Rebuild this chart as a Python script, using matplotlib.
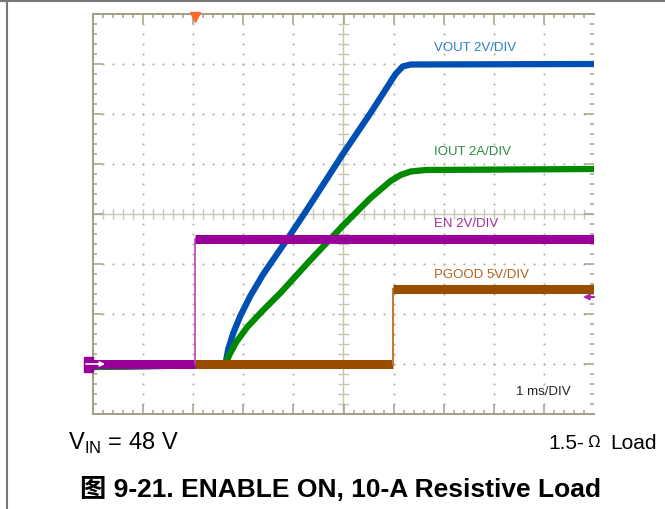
import numpy as np
import matplotlib
matplotlib.use('Agg')
import matplotlib.pyplot as plt
from matplotlib.lines import Line2D
from matplotlib.patches import Rectangle

plt.rcParams['font.family'] = ['Liberation Sans', 'Noto Sans CJK SC', 'DejaVu Sans']

# Trazas del osciloscopio (unidades: divisiones, 1 ms/DIV)
t_vout = [0, 2.64, 2.70, 2.80, 2.94, 3.14, 3.40, 3.88, 4.24, 4.64, 5.00, 5.54, 6.04, 6.18, 6.34, 10]
v_vout = [0.94, 0.98, 1.30, 1.62, 1.96, 2.36, 2.80, 3.50, 4.04, 4.66, 5.22, 6.02, 6.80, 6.95, 6.99, 7.00]

t_iout = [0, 2.64, 2.72, 2.86, 3.08, 3.38, 3.74, 4.34, 5.00, 5.54, 5.94, 6.14, 6.34, 6.64, 10]
v_iout = [0.94, 0.98, 1.18, 1.44, 1.74, 2.06, 2.42, 3.08, 3.78, 4.32, 4.66, 4.78, 4.85, 4.88, 4.90]

t_en = [0, 2.04, 2.04, 10]
v_en = [1.0, 1.0, 3.5, 3.5]

t_pg = [2.04, 5.98, 5.98, 10]
v_pg = [1.0, 1.0, 2.5, 2.5]

etiquetas = ['VOUT 2V/DIV', 'IOUT 2A/DIV', 'EN 2V/DIV', 'PGOOD 5V/DIV']
pos_etiquetas = [7.34, 5.26, 3.82, 2.80]
colores_etiquetas = ['#2b7fcf', '#2e8b3e', '#a0309c', '#b0621c']

marco = '#a39f85'
punto = '#b3b096'

fig = plt.figure(figsize=(6.65, 5.1), dpi=100)
ax = fig.add_axes([93 / 665, 95 / 510, 501 / 665, 400 / 510])
ax.set_xlim(0, 10)
ax.set_ylim(0, 8)
ax.set_xticks([])
ax.set_yticks([])
for lado in ['left', 'top', 'bottom']:
    ax.spines[lado].set_color(marco)
    ax.spines[lado].set_linewidth(1.4)
ax.spines['right'].set_visible(False)

# Rejilla de puntos
paso = np.arange(0.2, 10, 0.2)
paso_y = np.arange(0.2, 8, 0.2)
for gx in range(1, 10):
    if gx != 5:
        ax.scatter(np.full(len(paso_y), gx), paso_y, s=2.2, color=punto, lw=0, zorder=1)
for gy in range(1, 8):
    if gy != 4:
        ax.scatter(paso, np.full(len(paso), gy), s=2.2, color=punto, lw=0, zorder=1)

# Ejes centrales con marcas
ax.axhline(4, color='#c8c5b0', lw=1, zorder=1)
ax.axvline(5, color='#c8c5b0', lw=1, zorder=1)
ax.vlines(paso, 4 - 0.1, 4 + 0.1, color='#c8c5b0', lw=1, zorder=1)
ax.hlines(paso_y, 5 - 0.1, 5 + 0.1, color='#c8c5b0', lw=1, zorder=1)

# Marcas de los bordes
largo_x = np.where(np.isclose(paso % 1, 0) | np.isclose(paso % 1, 1), 0.2, 0.08)
largo_y = np.where(np.isclose(paso_y % 1, 0) | np.isclose(paso_y % 1, 1), 0.2, 0.08)
ax.vlines(paso, 8 - largo_x, 8, color=marco, lw=1.1, zorder=1)
ax.vlines(paso, 0, largo_x, color=marco, lw=1.1, zorder=1)
ax.hlines(paso_y, 0, largo_y, color=marco, lw=1.1, zorder=1)
ax.hlines(paso_y, 10 - largo_y, 10, color=marco, lw=1.1, zorder=1)

# Trazas
ax.plot(t_vout, v_vout, color='#0050b4', lw=4.5, zorder=2)
ax.plot(t_iout, v_iout, color='#008a00', lw=4.5, zorder=3)
ax.plot(t_pg[:2], v_pg[:2], color='#994d00', lw=6.5, solid_capstyle='butt', zorder=4)
ax.plot(t_pg[1:3], v_pg[1:3], color='#c07a3a', lw=1.5, zorder=4)
ax.plot(t_pg[2:], v_pg[2:], color='#994d00', lw=6.5, solid_capstyle='butt', zorder=4)
ax.plot(t_en[:2], v_en[:2], color='#990099', lw=6.5, solid_capstyle='butt', zorder=4)
ax.plot(t_en[1:3], v_en[1:3], color='#c040c0', lw=1.2, zorder=4)
ax.plot(t_en[2:], v_en[2:], color='#990099', lw=6.5, solid_capstyle='butt', zorder=4)

for texto, yy, cc in zip(etiquetas, pos_etiquetas, colores_etiquetas):
    ax.text(6.8, yy, texto, color=cc, fontsize=9.5, va='center', ha='left')
ax.text(8.44, 0.46, '1 ms/DIV', color='#222222', fontsize=9.5, va='center', ha='left')

# Marcadores de canal y disparo
ax.add_patch(Rectangle((-0.18, 0.85), 0.18, 0.3, color='#990099', clip_on=False, zorder=5))
ax.annotate('', xy=(0.24, 1.0), xytext=(-0.14, 1.0),
            arrowprops=dict(arrowstyle='-|>', color='white', lw=1.2, mutation_scale=7,
                            shrinkA=0, shrinkB=0),
            annotation_clip=False, zorder=6)
ax.annotate('', xy=(9.78, 2.34), xytext=(10.0, 2.34),
            arrowprops=dict(arrowstyle='-|>', color='#b020b0', lw=1.5, mutation_scale=8,
                            shrinkA=0, shrinkB=0),
            annotation_clip=False, zorder=6)
ax.plot([2.04], [7.95], marker='v', markersize=7, color='#ff6a2a', clip_on=False, zorder=6)

# Textos inferiores
fig.text(68 / 665, 1 - 443 / 510, r'V$_{\mathregular{IN}}$ = 48 V', fontsize=17, va='center', ha='left')
fig.text(548 / 665, 1 - 444 / 510, '1.5-', fontsize=15, va='center', ha='left')
fig.text(587 / 665, 1 - 447.5 / 510, 'Ω', fontsize=12, va='baseline', ha='left',
         family=['Noto Sans CJK SC', 'DejaVu Sans'])
fig.text(657 / 665, 1 - 444 / 510, 'Load', fontsize=15, va='center', ha='right')
fig.text(340 / 665, 1 - 490 / 510, '图 9-21. ENABLE ON, 10-A Resistive Load',
         fontsize=19, fontweight='bold', va='center', ha='center')

# Borde de la imagen
fig.add_artist(Line2D([0, 1], [1 - 1.5 / 510] * 2, transform=fig.transFigure, color='#777777', lw=1.5))
fig.add_artist(Line2D([7 / 665] * 2, [0, 1], transform=fig.transFigure, color='#777777', lw=1.5))

fig.savefig('out.png', dpi=100)
